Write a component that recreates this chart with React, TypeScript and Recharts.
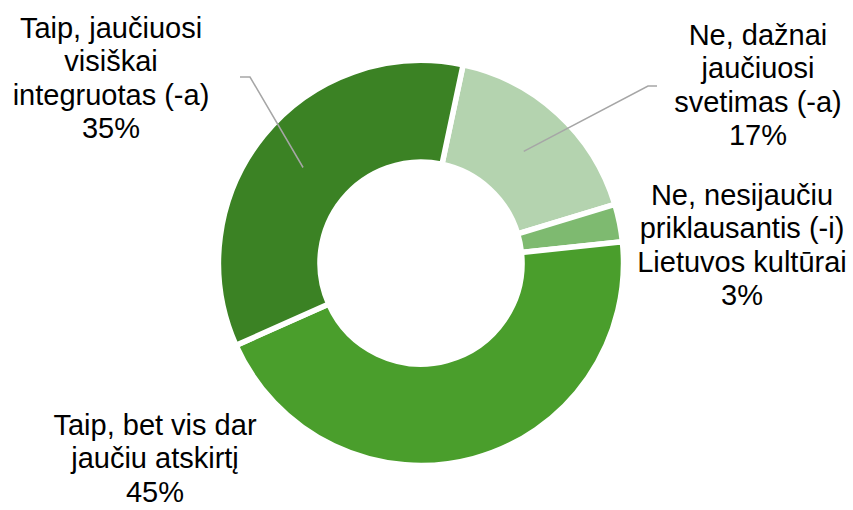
import React from 'react';
import { PieChart, Pie, Cell } from 'recharts';

// atsakymų kategorijos (eilutės laužiamos su \n), nuo viršaus pagal laikrodžio rodyklę
const categories = [
  'Ne, dažnai\njaučiuosi\nsvetimas (-a)',
  'Ne, nesijaučiu\npriklausantis (-i)\nLietuvos kultūrai',
  'Taip, bet vis dar\njaučiu atskirtį',
  'Taip, jaučiuosi\nvisiškai\nintegruotas (-a)',
];
const shares = [17, 3, 45, 35];
const colors = ['#B4D3AF', '#7EBA70', '#4A9E2C', '#3B8224'];

// etikečių vieta centro atžvilgiu (pirmos eilutės bazinė linija)
const labelOffsets = [
  { dx: 337, dy: -218 },
  { dx: 321, dy: -58 },
  { dx: -266, dy: 172 },
  { dx: -310, dy: -225 },
];
// jungiamųjų linijų lūžio taškai (null = be linijos)
const leaderElbows: ({ ex: number; ey: number; tx: number } | null)[] = [
  { ex: 227, ey: -177, tx: 236 },
  null,
  null,
  { ex: -171, ey: -186, tx: -181 },
];

const W = 853;
const H = 510;
const CX = 421;
const CY = 263;
const FONT = 29;
const LINE = 33.4;

const data = categories.map((name, i) => ({ name, value: shares[i] }));

const RADIAN = Math.PI / 180;

function renderLabel(props: any) {
  const { index, midAngle, innerRadius, outerRadius } = props;
  const cx = props.cx ?? CX;
  const cy = props.cy ?? CY;
  const off = labelOffsets[index];
  const lines = [...categories[index].split('\n'), `${shares[index]}%`];
  const x = cx + off.dx;
  const y0 = cy + off.dy;
  const elbow = leaderElbows[index];
  let leader = null;
  if (elbow) {
    const r = (innerRadius + outerRadius) / 2;
    const px = cx + r * Math.cos(-midAngle * RADIAN);
    const py = cy + r * Math.sin(-midAngle * RADIAN);
    leader = (
      <polyline
        points={`${px},${py} ${cx + elbow.ex},${cy + elbow.ey} ${cx + elbow.tx},${cy + elbow.ey}`}
        fill="none"
        stroke="#A6A6A6"
        strokeWidth={1.5}
      />
    );
  }
  return (
    <g key={`lbl-${index}`}>
      {leader}
      <text
        x={x}
        y={y0}
        textAnchor="middle"
        fontFamily="'Liberation Sans', Arial, sans-serif"
        fontSize={FONT}
        fill="#000"
      >
        {lines.map((ln, i) => (
          <tspan key={i} x={x} y={y0 + i * LINE}>
            {ln}
          </tspan>
        ))}
      </text>
    </g>
  );
}

export default function App() {
  return (
    <div style={{ position: 'absolute', left: 0, top: 0, width: W, height: H, background: '#fff' }}>
      <PieChart width={W} height={H} margin={{ top: 0, right: 0, bottom: 0, left: 0 }}>
        <Pie
          data={data}
          dataKey="value"
          nameKey="name"
          cx={CX}
          cy={CY}
          innerRadius={101}
          outerRadius={202.5}
          startAngle={78}
          endAngle={-282}
          stroke="#fff"
          strokeWidth={5.5}
          label={renderLabel}
          labelLine={false}
          isAnimationActive={false}
        >
          {data.map((d, i) => (
            <Cell key={d.name} fill={colors[i]} />
          ))}
        </Pie>
      </PieChart>
    </div>
  );
}
